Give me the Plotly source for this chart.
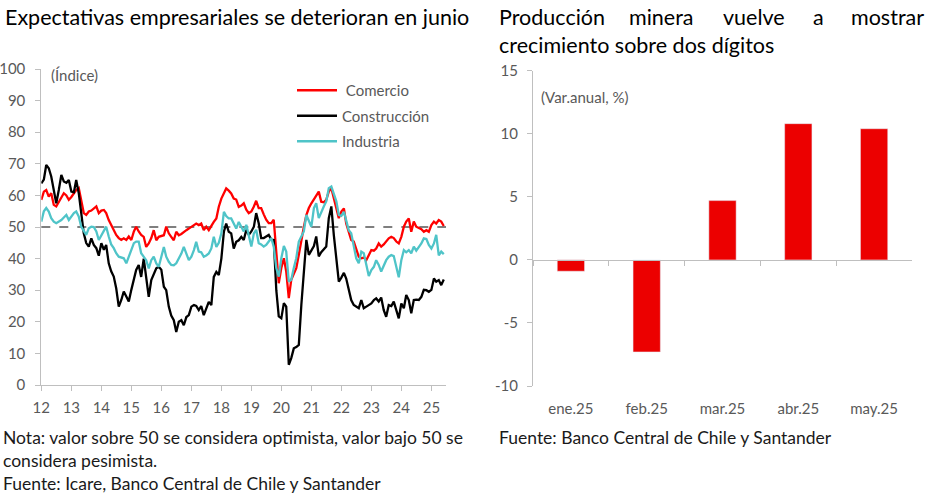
import plotly.graph_objects as go
import pandas as pd

W, H = 927, 497

# ---------------- data: left chart (monthly index, Jan-2012 .. Jun-2025)
start_month = "2012-01-01"
n_months = 162
comercio = [
    58.6, 61.2, 61.7, 59.6, 60.7, 57.0, 56.5, 58.0, 59.6, 60.7, 60.0, 58.6,
    59.5, 60.7, 61.7, 62.3, 58.0, 54.4, 53.8, 54.9, 55.2, 55.8, 56.5, 54.4,
    55.2, 55.4, 54.4, 52.2, 50.5, 49.1, 47.5, 46.5, 45.9, 46.4, 45.9, 47.0,
    45.9, 48.6, 50.1, 48.6, 47.5, 46.9, 43.7, 44.8, 46.5, 49.0, 45.8, 46.9,
    47.2, 47.4, 50.1, 48.0, 46.9, 45.8, 48.5, 47.4, 47.8, 48.5, 49.0, 49.5,
    50.1, 50.6, 51.1, 50.6, 51.1, 49.0, 50.1, 49.0, 50.5, 51.6, 52.7, 56.4,
    59.0, 61.0, 62.2, 61.5, 60.6, 59.0, 58.7, 56.4, 56.8, 57.5, 55.5, 54.4,
    54.9, 56.5, 58.3, 56.0, 56.0, 54.0, 52.3, 51.2, 51.2, 52.3, 42.8, 32.2,
    37.0, 40.1, 35.9, 27.5, 33.3, 35.5, 37.0, 41.2, 46.0, 50.0, 53.8, 56.0,
    57.5, 58.8, 60.2, 61.2, 58.0, 57.8, 58.6, 61.2, 62.3, 59.1, 56.0, 52.8,
    54.9, 55.9, 51.1, 48.0, 45.9, 45.4, 42.7, 40.6, 40.1, 40.3, 39.5, 41.1,
    42.7, 42.5, 43.2, 44.8, 43.8, 44.5, 45.4, 46.4, 46.9, 46.5, 45.4, 44.8,
    46.9, 50.1, 51.7, 52.7, 48.5, 51.7, 50.1, 49.6, 49.3, 48.5, 49.0, 48.5,
    50.6, 51.7, 51.1, 52.2, 51.7, 50.3,
]
construccion = [
    63.8, 65.0, 69.6, 68.6, 66.0, 61.7, 57.5, 61.7, 66.5, 64.4, 64.0, 64.9,
    61.2, 61.0, 64.9, 60.7, 55.0, 48.0, 44.9, 43.8, 46.4, 44.3, 43.3, 40.9,
    44.9, 42.8, 44.3, 38.5, 36.0, 34.3, 30.6, 24.8, 26.9, 29.6, 28.0, 26.4,
    30.1, 33.0, 36.4, 38.0, 34.2, 40.0, 33.2, 27.9, 33.2, 35.3, 36.9, 37.4,
    36.5, 31.1, 30.0, 24.8, 22.0, 20.5, 16.8, 20.0, 20.5, 18.9, 21.5, 22.1,
    24.8, 25.3, 25.0, 23.7, 25.0, 22.1, 24.0, 26.3, 25.3, 34.2, 35.8, 34.8,
    40.0, 48.5, 51.1, 48.5, 48.0, 43.2, 45.3, 45.8, 46.9, 45.9, 49.1, 47.5,
    48.6, 50.1, 54.4, 51.2, 46.5, 46.5, 47.0, 47.5, 46.0, 45.9, 30.0, 21.7,
    21.1, 25.9, 24.8, 6.4, 8.5, 11.6, 12.0, 12.7, 25.4, 34.9, 45.9, 41.2,
    42.8, 44.0, 47.0, 40.7, 42.0, 42.8, 43.8, 52.8, 56.5, 47.5, 39.1, 32.7,
    34.0, 35.5, 33.7, 30.1, 26.9, 25.3, 24.8, 24.3, 26.9, 24.3, 24.8, 25.3,
    25.8, 26.9, 27.4, 26.4, 27.7, 23.7, 21.6, 25.3, 25.0, 26.4, 23.7, 21.1,
    25.8, 24.3, 28.5, 26.9, 22.7, 26.9, 27.0, 26.9, 27.9, 30.1, 30.0, 29.5,
    30.1, 33.7, 32.7, 33.2, 31.6, 33.4,
]
industria = [
    51.7, 55.0, 56.0, 54.9, 52.8, 51.7, 51.2, 51.7, 52.2, 53.0, 53.8, 52.2,
    53.5, 54.4, 54.9, 53.3, 50.1, 48.6, 47.5, 49.6, 50.1, 50.0, 48.6, 45.9,
    47.5, 49.1, 50.1, 47.0, 44.5, 43.3, 41.7, 40.6, 40.3, 40.1, 38.5, 40.5,
    42.7, 44.9, 45.4, 45.4, 41.7, 40.6, 39.5, 36.9, 39.5, 40.6, 38.5, 37.4,
    40.6, 43.7, 40.6, 39.0, 38.0, 37.9, 38.5, 40.0, 41.6, 43.7, 41.6, 39.5,
    40.6, 42.7, 45.3, 42.2, 42.0, 40.6, 41.0, 41.6, 43.2, 46.9, 43.7, 45.0,
    48.0, 54.8, 53.5, 52.7, 52.7, 51.1, 49.5, 51.6, 50.0, 48.6, 50.7, 47.0,
    43.8, 48.0, 49.1, 44.9, 44.5, 43.8, 44.3, 45.4, 46.5, 43.8, 37.0, 34.3,
    40.1, 44.0, 42.2, 32.7, 33.3, 37.0, 40.1, 45.4, 47.0, 48.6, 53.8, 51.7,
    50.1, 56.0, 57.5, 52.8, 54.9, 56.5, 58.1, 62.3, 62.8, 60.2, 58.1, 53.8,
    53.5, 54.8, 52.2, 49.0, 48.0, 44.3, 40.1, 38.5, 42.2, 41.7, 38.5, 34.5,
    36.4, 37.4, 39.5, 38.0, 35.9, 38.0, 39.5, 40.6, 41.1, 40.8, 37.4, 34.1,
    39.5, 42.7, 42.0, 42.7, 41.7, 43.8, 42.5, 43.5, 44.8, 46.4, 46.2, 44.3,
    43.2, 44.8, 47.5, 41.0, 42.2, 41.4,
]
umbral = 50
left_x_range = ["2012-01-01", "2025-06-28"]

# ---------------- data: right chart
meses = ["ene.25", "feb.25", "mar.25", "abr.25", "may.25"]
mineria = [-0.9, -7.3, 4.7, 10.8, 10.4]
right_ticks = [-10, -5, 0, 5, 10, 15]
right_ticktext = ["-10", "-5", "0", "5", "10", "15"]

fechas = pd.date_range(start_month, periods=n_months, freq="MS")

# ---------------- styling
FONT = "Lato"
GRAY = "#595959"
AXC = "#bfbfbf"
RED = "#FF0000"
BAR_RED = "#EC0000"
CYAN = "#4FC4C8"


def px(x):
    return x / W


def py(y):
    return 1 - y / H


L_dom_x = [px(41.3), px(446)]
L_dom_y = [py(385), py(69)]
R_dom_x = [px(533), px(912)]
R_dom_y = [py(386), py(70.7)]
R_ymin, R_ymax = -10, 15
zero_pos = R_dom_y[0] + (0 - R_ymin) / (R_ymax - R_ymin) * (R_dom_y[1] - R_dom_y[0])

fig = go.Figure()

series = [(" Comercio", comercio, RED), ("Construcción", construccion, "#000000"),
          ("Industria", industria, CYAN)]
for i, (name, vals, col) in enumerate(series):
    fig.add_trace(go.Scatter(x=fechas, y=vals, name=name, mode="lines",
                             line=dict(color=col, width=2.3),
                             legendgroup=f"g{i}", xaxis="x", yaxis="y"))

fig.add_shape(type="line", xref="x domain", yref="y", x0=0, x1=1, y0=umbral, y1=umbral,
              line=dict(color="#000000", width=1.2, dash="dash"), layer="below")

fig.add_trace(go.Bar(x=meses, y=mineria, marker_color=BAR_RED, showlegend=False,
                     xaxis="x2", yaxis="y2", width=0.36))
fig.add_trace(go.Scatter(x=meses, y=[None] * len(meses), showlegend=False,
                         xaxis="x3", yaxis="y2", hoverinfo="skip"))

tickfont = dict(family=FONT, size=15, color=GRAY)

fig.update_layout(
    width=W, height=H, margin=dict(l=0, r=0, t=0, b=0, pad=0, autoexpand=False),
    plot_bgcolor="white", paper_bgcolor="white",
    font=dict(family=FONT, color=GRAY),
    bargap=0.64,
    showlegend=True,
    legend=dict(x=px(292), y=py(74), xanchor="left", yanchor="top",
                font=dict(family=FONT, size=15, color=GRAY), tracegroupgap=3,
                bgcolor="rgba(0,0,0,0)", itemwidth=40),
    xaxis=dict(domain=L_dom_x, anchor="y", type="date", range=left_x_range,
               tick0="2012-01-01", dtick="M12", tickformat="%y", ticks="outside",
               ticklen=5, tickcolor=AXC, showline=True, linecolor=AXC, showgrid=False,
               tickfont=tickfont, zeroline=False, automargin=False, ticklabelstandoff=4),
    yaxis=dict(domain=L_dom_y, anchor="x", range=[0, 100], dtick=10, ticks="outside",
               ticklen=5, tickcolor=AXC, showline=True, linecolor=AXC, showgrid=False,
               zeroline=False, tickfont=tickfont, automargin=False, ticklabelstandoff=7),
    xaxis2=dict(domain=R_dom_x, anchor="y2", type="category", showline=False,
                ticks="", showgrid=False, tickfont=tickfont, zeroline=False,
                automargin=False, ticklabelstandoff=12),
    xaxis3=dict(domain=R_dom_x, anchor="free", overlaying="x2", position=zero_pos,
                type="category", showline=True, linecolor=AXC, ticks="outside",
                tickson="boundaries", ticklen=5, tickcolor=AXC, showticklabels=False,
                showgrid=False, zeroline=False, range=[-0.5, len(meses) - 0.5],
                automargin=False),
    yaxis2=dict(domain=R_dom_y, anchor="x2", range=[R_ymin, R_ymax], tickvals=right_ticks,
                ticktext=right_ticktext, ticks="outside", ticklen=5, tickcolor=AXC,
                showline=True, linecolor=AXC, showgrid=False, zeroline=False,
                tickfont=tickfont, automargin=False, ticklabelstandoff=6),
)

TXT = "#1a1a1a"
TSIZE = 21.5
NSIZE = 17.5
ann = []
ann.append(dict(text="Expectativas empresariales se deterioran en junio", x=px(3), y=py(17),
                xanchor="left", yanchor="middle", font=dict(family=FONT, size=TSIZE, color="#000000")))
ann.append(dict(text="(Índice)", x=px(49), y=py(75), xanchor="left", yanchor="middle",
                font=dict(family=FONT, size=15, color=GRAY)))
ann.append(dict(text="(Var.anual, %)", x=px(539), y=py(97), xanchor="left", yanchor="middle",
                font=dict(family=FONT, size=15, color=GRAY)))
# justified right title, first line
title_words = [("Producción", 497, "left"), ("minera", 661, "center"), ("vuelve", 754, "center"),
               ("a", 818, "center"), ("mostrar", 926, "right")]
for w, xx, anc in title_words:
    ann.append(dict(text=w, x=px(xx), y=py(17), xanchor=anc, yanchor="middle",
                    font=dict(family=FONT, size=TSIZE, color="#000000")))
ann.append(dict(text="crecimiento sobre dos dígitos", x=px(497), y=py(45), xanchor="left",
                yanchor="middle", font=dict(family=FONT, size=TSIZE, color="#000000")))
notes = [("Nota: valor sobre 50 se considera optimista, valor bajo 50 se", 1, 437),
         ("considera pesimista.", 1, 460),
         ("Fuente: Icare, Banco Central de Chile y Santander", 1, 483),
         ("Fuente: Banco Central de Chile y Santander", 497, 437)]
for t, xx, yy in notes:
    ann.append(dict(text=t, x=px(xx), y=py(yy), xanchor="left", yanchor="middle",
                    font=dict(family=FONT, size=NSIZE, color=TXT)))
for a in ann:
    a.update(xref="paper", yref="paper", showarrow=False)
fig.update_layout(annotations=ann)

fig.write_html("out.html", config={"displayModeBar": False},
               post_script="document.body.style.margin='0';document.body.style.overflow='hidden';")
